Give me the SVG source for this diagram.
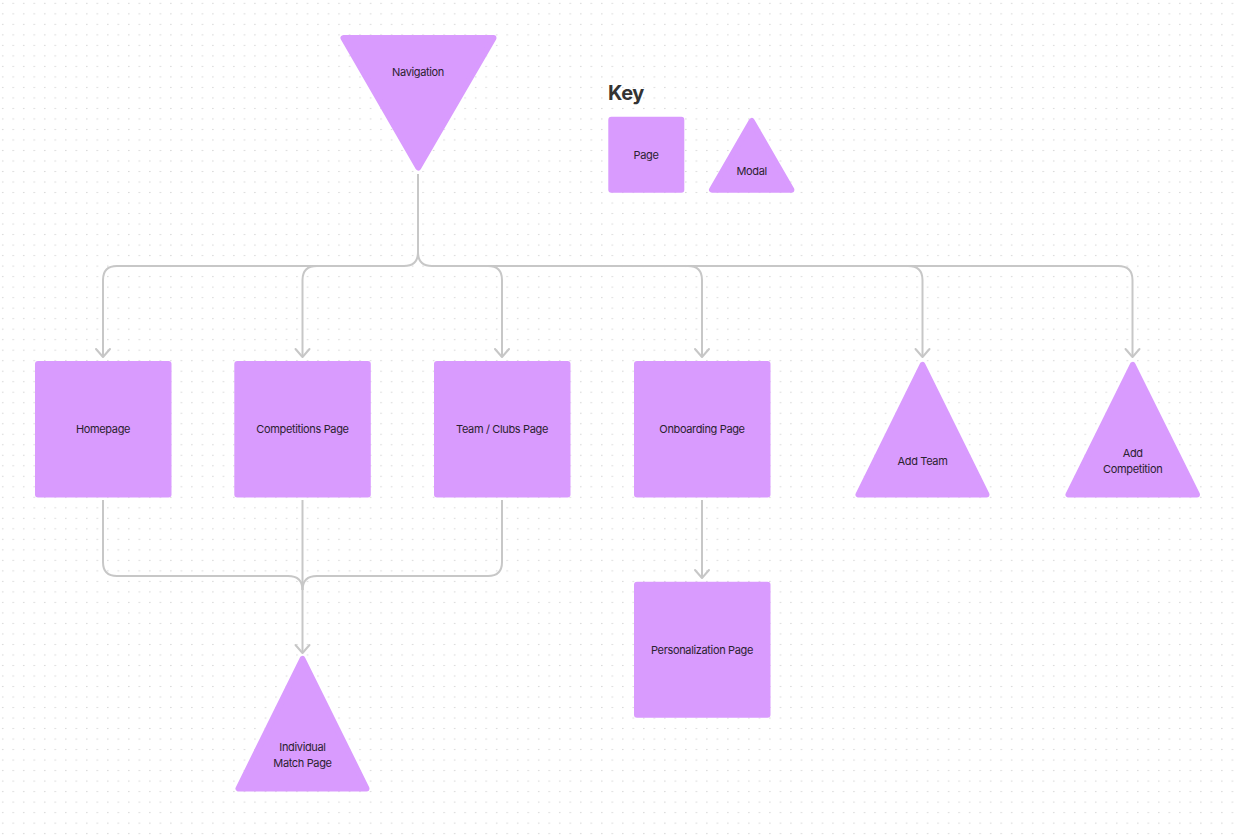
<svg xmlns="http://www.w3.org/2000/svg" width="1234" height="836" viewBox="0 0 1234 836">
<style>
.box{fill:#d99bfe;}
.tri{fill:#d99bfe;stroke:#d99bfe;stroke-width:6;stroke-linejoin:round;}
.lbl{font-family:Inter,"Liberation Sans",sans-serif;font-size:11px;letter-spacing:-0.35px;fill:#2b2230;text-anchor:middle;}
.key{font-family:Inter,"Liberation Sans",sans-serif;font-size:20px;font-weight:700;letter-spacing:-0.4px;fill:#333333;}
.conn{fill:none;stroke:#c7c7c7;stroke-width:2;}
</style>
<defs>
<pattern id="dots" patternUnits="userSpaceOnUse" x="0" y="0" width="10.51" height="10.51">
<rect x="2.2" y="2.8" width="1.1" height="1.1" fill="#c9c9c9"/>
</pattern>
<marker id="arr" viewBox="-10 -9 12 18" refX="0" refY="0" markerWidth="12" markerHeight="18" markerUnits="userSpaceOnUse" orient="auto">
<path d="M-8,-7 L0,0 L-8,7" fill="none" stroke="#c7c7c7" stroke-width="2" stroke-linecap="round" stroke-linejoin="round"/>
</marker>
</defs>
<rect width="1234" height="836" fill="#ffffff"/>
<rect width="1234" height="836" fill="url(#dots)"/>

<g id="connectors">
<path class="conn" d="M418 174 V252 Q418 266 404 266 H117 Q103 266 103 280 V357" marker-end="url(#arr)"/>
<path class="conn" d="M418 252 Q418 266 432 266 H1118 Q1132.5 266 1132.5 280 V357" marker-end="url(#arr)"/>
<path class="conn" d="M317 266 Q302.5 266 302.5 280 V357" marker-end="url(#arr)"/>
<path class="conn" d="M488 266 Q502 266 502 280 V357" marker-end="url(#arr)"/>
<path class="conn" d="M688 266 Q702 266 702 280 V357" marker-end="url(#arr)"/>
<path class="conn" d="M908 266 Q922.5 266 922.5 280 V357" marker-end="url(#arr)"/>
<path class="conn" d="M103 500 V562 Q103 576 117 576 H288 Q302.5 576 302.5 590"/>
<path class="conn" d="M502 500 V562 Q502 576 488 576 H317 Q302.5 576 302.5 590"/>
<path class="conn" d="M302.5 500 V653" marker-end="url(#arr)"/>
<path class="conn" d="M702 500 V578" marker-end="url(#arr)"/>
</g>

<g id="navigation">
<polygon class="tri" points="343.5,38 493.5,38 418.3,167.5"/>
<text class="lbl" x="418" y="76">Navigation</text>
</g>

<g id="key">
<text class="key" x="608" y="100">Key</text>
<rect class="box" x="608.3" y="116.7" width="76" height="76" rx="3"/>
<text class="lbl" x="646" y="159">Page</text>
<polygon class="tri" points="751.7,121 712,189.7 791.4,189.7"/>
<text class="lbl" x="751.7" y="175">Modal</text>
</g>

<g id="homepage">
<rect class="box" x="35" y="361" width="136.5" height="136.5" rx="3"/>
<text class="lbl" x="103" y="433">Homepage</text>
</g>
<g id="competitions">
<rect class="box" x="234.3" y="361" width="136.5" height="136.5" rx="3"/>
<text class="lbl" x="302.5" y="433">Competitions Page</text>
</g>
<g id="teamclubs">
<rect class="box" x="434" y="361" width="136.5" height="136.5" rx="3"/>
<text class="lbl" x="502" y="433">Team / Clubs Page</text>
</g>
<g id="onboarding">
<rect class="box" x="634" y="361" width="136.5" height="136.5" rx="3"/>
<text class="lbl" x="702" y="433">Onboarding Page</text>
</g>
<g id="addteam">
<polygon class="tri" points="922.5,365 858.5,494.5 986.5,494.5"/>
<text class="lbl" x="922.5" y="465">Add Team</text>
</g>
<g id="addcompetition">
<polygon class="tri" points="1132.7,365 1068.5,494.5 1197,494.5"/>
<text class="lbl" x="1132.7" y="457">Add</text>
<text class="lbl" x="1132.7" y="473">Competition</text>
</g>
<g id="individualmatch">
<polygon class="tri" points="302.5,659 238.5,788.5 366.5,788.5"/>
<text class="lbl" x="302.5" y="751">Individual</text>
<text class="lbl" x="302.5" y="767">Match Page</text>
</g>
<g id="personalization">
<rect class="box" x="634" y="581.7" width="136.5" height="136" rx="3"/>
<text class="lbl" x="702" y="654">Personalization Page</text>
</g>
</svg>
